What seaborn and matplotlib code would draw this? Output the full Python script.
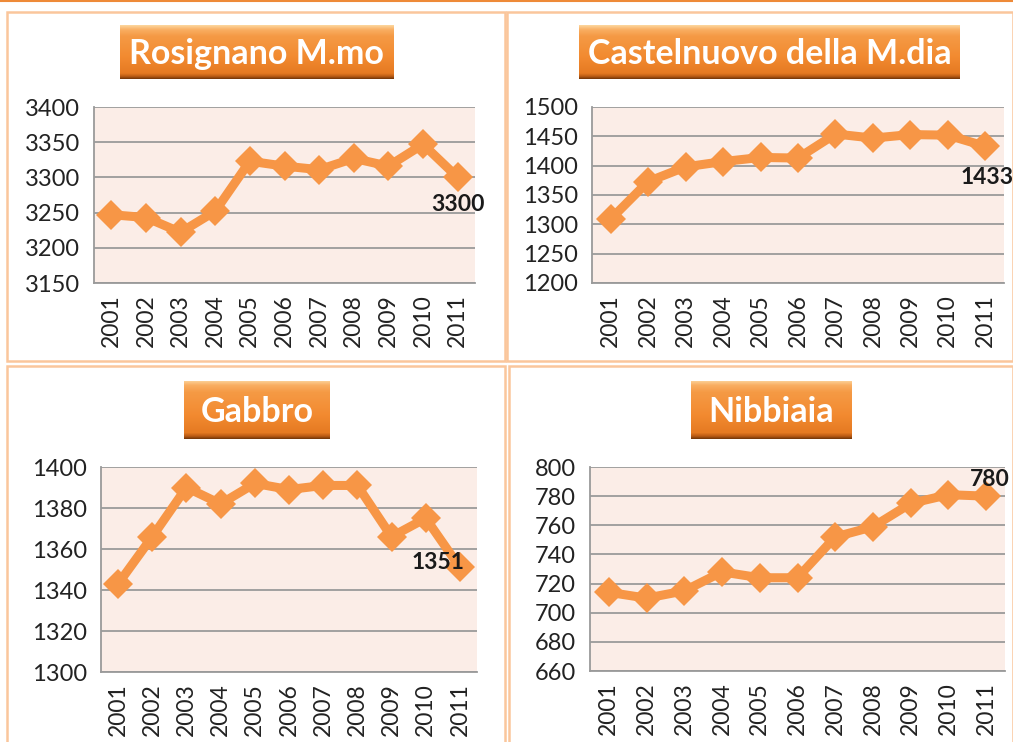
import numpy as np
import pandas as pd
import matplotlib
matplotlib.use('Agg')
import matplotlib.pyplot as plt
from matplotlib.patches import Rectangle
from matplotlib.colors import to_rgb
import seaborn as sns

# data
years = ['2001', '2002', '2003', '2004', '2005', '2006', '2007', '2008', '2009', '2010', '2011']
rosignano = [3247, 3243, 3222, 3252, 3323, 3316, 3311, 3327, 3316, 3347, 3300]
castelnuovo = [1309, 1373, 1398, 1407, 1414, 1413, 1454, 1447, 1453, 1452, 1433]
gabbro = [1343, 1366, 1390, 1382, 1392, 1389, 1391, 1391, 1366, 1375, 1351]
nibbiaia = [714, 710, 715, 728, 724, 724, 752, 759, 775, 781, 780]

titles = ['Rosignano M.mo', 'Castelnuovo della M.dia', 'Gabbro', 'Nibbiaia']
series = [rosignano, castelnuovo, gabbro, nibbiaia]
ylims = [(3150, 3400, 50), (1200, 1500, 50), (1300, 1400, 20), (660, 800, 20)]

W, H = 1013, 742
ORANGE = '#F79646'

sns.set_style('white')
plt.rcParams['font.family'] = ['Lato', 'DejaVu Sans']


def box(x0, y0, x1, y1):
    # pixel box (top-left origin) -> figure fraction rect
    return [x0 / W, 1 - y1 / H, (x1 - x0) / W, (y1 - y0) / H]


fig = plt.figure(figsize=(W / 100, H / 100), dpi=100)

# top rule and panel frames
fig.add_artist(plt.Line2D([0, 1], [1 - 1 / H, 1 - 1 / H], color='#EE8A38', lw=1.5))
frames = [(7, 12, 505, 361), (507, 12, 1013, 361), (7, 366, 505, 745), (509, 366, 1013, 745)]
for x0, y0, x1, y1 in frames:
    r = box(x0, y0, x1, y1)
    fig.add_artist(Rectangle((r[0], r[1]), r[2], r[3], transform=fig.transFigure,
                             fill=False, edgecolor='#FAC69C', lw=1.8))

plot_boxes = [(94, 107, 475, 283), (592, 107, 1004, 283), (101, 467, 477, 672), (590, 467, 1005, 671)]
title_boxes = [(120, 25, 393, 79), (579, 25, 960, 79), (184, 381, 330, 439), (691, 381, 852, 439)]
label_offsets = [(0, -27), (2, -31), (-22, 5), (4, 17)]

# gradient for the title buttons
stops = [0.0, 0.08, 0.2, 0.6, 0.9, 0.96, 1.0]
cols = ['#FCD49A', '#F9AE62', '#F59A45', '#F28A30', '#E57A22', '#B85A14', '#7A3A0A']
t = np.linspace(0, 1, 60)
rgb = np.array([to_rgb(c) for c in cols])
grad = np.stack([np.interp(t, stops, rgb[:, k]) for k in range(3)], axis=-1)[:, None, :]

for i in range(4):
    # title button
    tax = fig.add_axes(box(*title_boxes[i]))
    tax.imshow(grad, aspect='auto', extent=[0, 1, 0, 1])
    tax.set_axis_off()
    tax.text(0.5, 0.47, titles[i], color='white', fontsize=24.5, fontweight='bold',
             ha='center', va='center', transform=tax.transAxes)

    df = pd.DataFrame({'year': years, 'value': series[i]})
    ax = fig.add_axes(box(*plot_boxes[i]))
    ax.set_facecolor('#FBEDE7')
    sns.lineplot(data=df, x='year', y='value', ax=ax, color=ORANGE, lw=6.5,
                 marker='D', markersize=15.5, markeredgewidth=0, sort=False)

    lo, hi, step = ylims[i]
    ax.set_ylim(lo, hi)
    ax.set_yticks(np.arange(lo, hi + 1, step))
    ax.yaxis.grid(True, color='#9A9A9A', lw=1.3)
    ax.set_axisbelow(True)
    ax.set_xlim(-0.5, len(years) - 0.5)
    ax.set_xticks(range(len(years)))
    ax.set_xticklabels(years, rotation=90)
    ax.set_xticks(np.arange(-0.5, len(years)), minor=True)
    ax.tick_params(axis='x', which='major', length=0, pad=8, labelsize=16.5, labelcolor='#222222')
    ax.tick_params(axis='x', which='minor', length=7, width=1.3, color='#9A9A9A', direction='out')
    ax.tick_params(axis='y', length=8, width=1.3, color='#9A9A9A', direction='out',
                   pad=2, labelsize=17, labelcolor='#222222')
    ax.set_xlabel('')
    ax.set_ylabel('')
    for s in ['top', 'right']:
        ax.spines[s].set_visible(False)
    for s in ['left', 'bottom']:
        ax.spines[s].set_color('#9A9A9A')
        ax.spines[s].set_linewidth(1.3)

    ax.annotate(str(series[i][-1]), xy=(len(years) - 1, series[i][-1]),
                xytext=label_offsets[i], textcoords='offset pixels',
                ha='center', va='center', fontsize=16.5, fontweight='bold',
                color='#1A1A1A', annotation_clip=False)

fig.savefig('out.png', dpi=100)
